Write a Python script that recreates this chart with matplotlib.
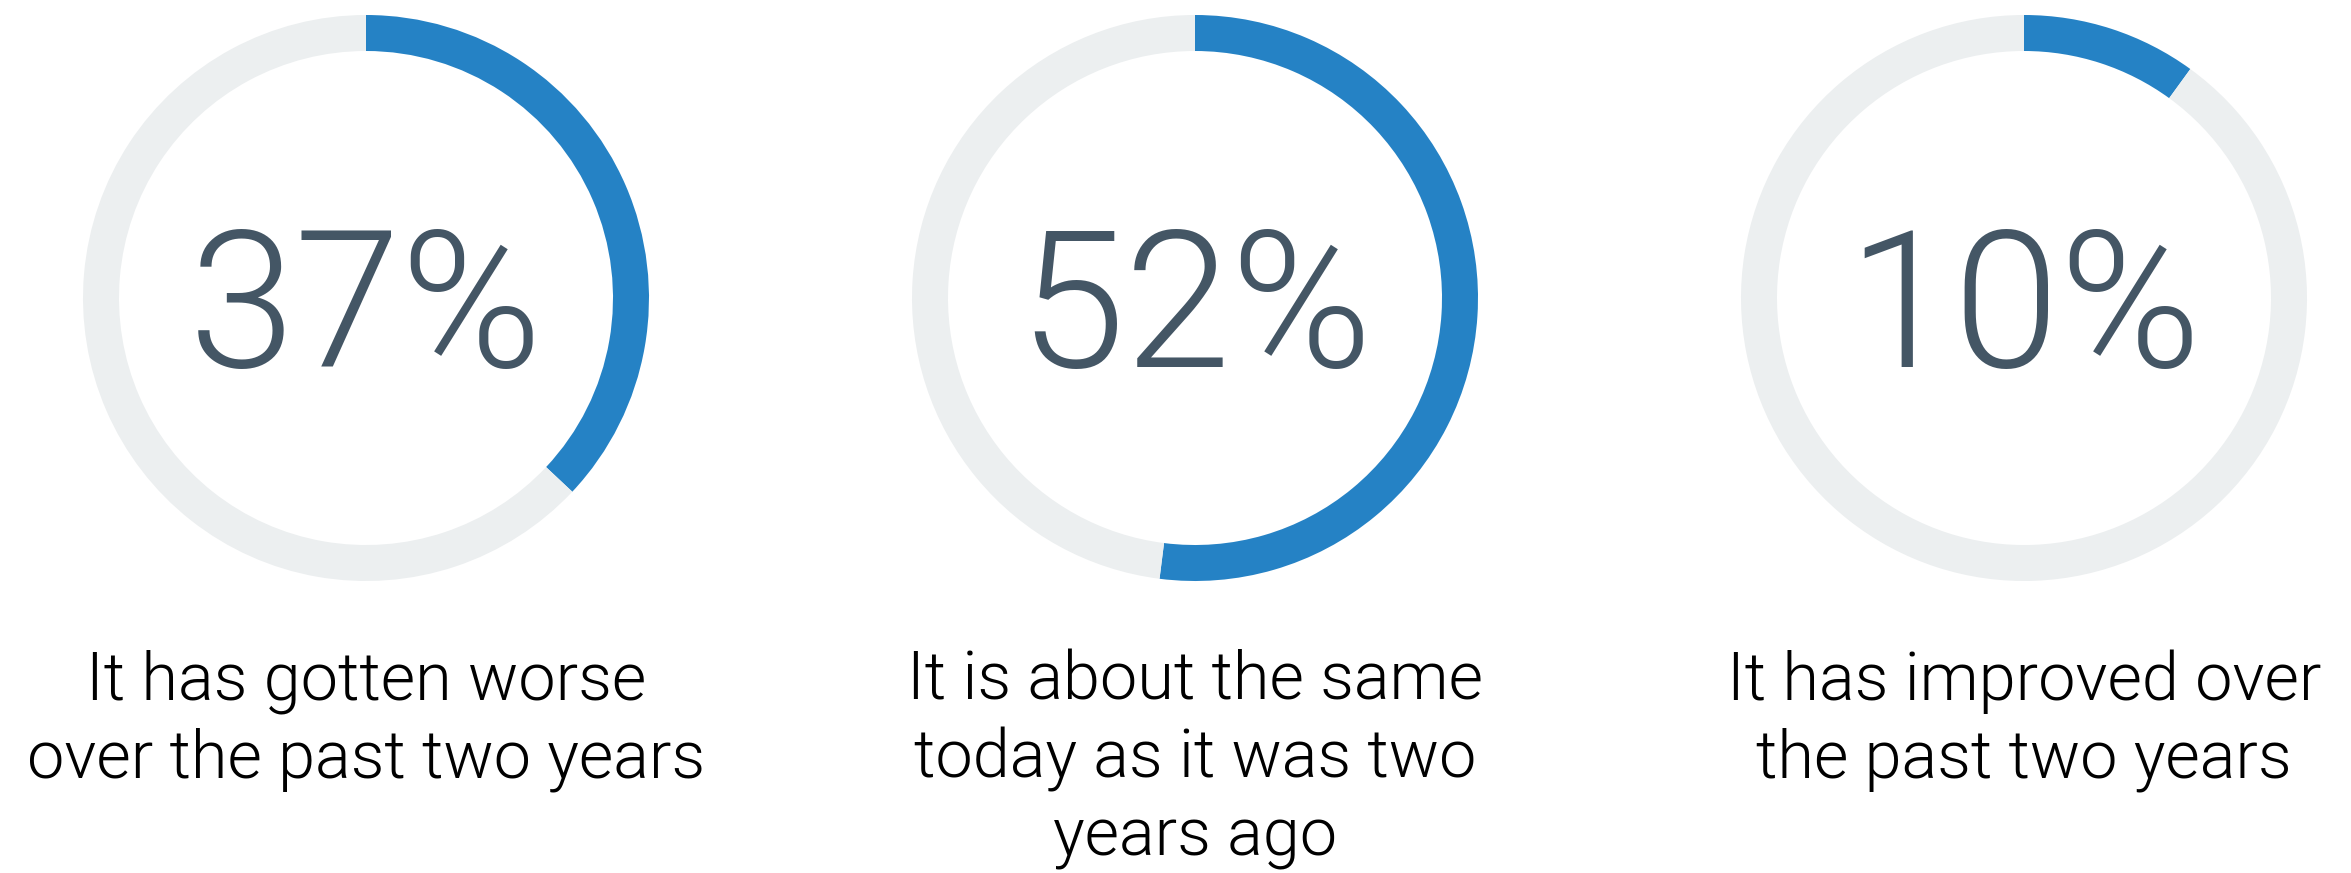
import matplotlib
matplotlib.use("Agg")
import matplotlib.pyplot as plt

# Survey answers and their shares (percent)
answers = [
    ["It has gotten worse", "over the past two years"],
    ["It is about the same", "today as it was two", "years ago"],
    ["It has improved over", "the past two years"],
]
shares = [37, 52, 10]

BLUE = "#2582c5"
TRACK = "#eceff0"
NUM_COLOR = "#445665"

W, H = 2351, 873
fig = plt.figure(figsize=(W / 100, H / 100), dpi=100)
ax = fig.add_axes([0, 0, 1, 1])

centers_x = [366, 1195, 2024]
cy = H - 298
r_out, ring_w = 283, 36
num_baseline = 367
first_baseline = 700
line_step = 78

for x, share, lines in zip(centers_x, shares, answers):
    ax.pie([share, 100 - share], colors=[BLUE, TRACK], startangle=90,
           counterclock=False, center=(x, cy), radius=r_out,
           wedgeprops=dict(width=ring_w, linewidth=0))
    ax.text(x, H - num_baseline, f"{share}%", ha="center", va="baseline",
            fontsize=138, family="Roboto", fontweight=300,
            color=NUM_COLOR)
    for k, line in enumerate(lines):
        ax.text(x, H - (first_baseline + k * line_step), line,
                ha="center", va="baseline", fontsize=48,
                family="Roboto", fontweight=300, color="#000000")

ax.set_xlim(0, W)
ax.set_ylim(0, H)
ax.set_aspect("equal")
ax.axis("off")

fig.savefig("out.png", dpi=100, facecolor="white")
